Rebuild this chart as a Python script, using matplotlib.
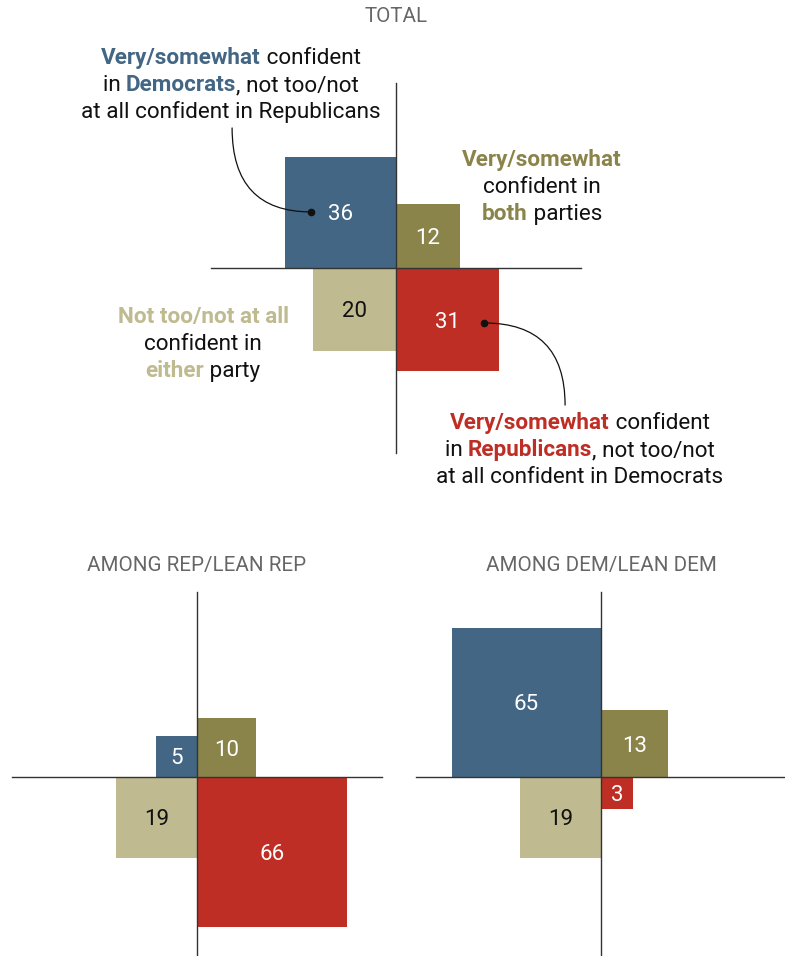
import matplotlib
matplotlib.use("Agg")
import matplotlib.pyplot as plt
from matplotlib.patches import Rectangle
import numpy as np

plt.rcParams["font.family"] = ["Roboto", "DejaVu Sans"]

W, H = 785, 956
K = 18.5  # pixels per sqrt(percentage point), square area ~ share

# quadrant order: dem only (top-left), both (top-right), neither (bottom-left), rep only (bottom-right)
quadrants = ["dem_only", "both", "neither", "rep_only"]
signs = [(-1, 1), (1, 1), (-1, -1), (1, -1)]
colors = ["#436685", "#8b844a", "#bfba8f", "#be2e24"]
label_colors = ["white", "white", "#111111", "white"]

total_vals = [36, 12, 20, 31]
rep_vals = [5, 10, 19, 66]
dem_vals = [65, 13, 19, 3]

panel_titles = ["TOTAL", "AMONG REP/LEAN REP", "AMONG DEM/LEAN DEM"]

BLUE, OLIVE, TAN, RED, INK = colors[0], colors[1], colors[2], colors[3], "#111111"
NOTE_SIZE = 16.2

fig = plt.figure(figsize=(W / 100, H / 100), dpi=100)
renderer = fig.canvas.get_renderer()


def px_axes(x0, y0, x1, y1, cx, cy):
    """Axes placed in pixel box, data origin at (cx, cy), 1 unit = K px."""
    ax = fig.add_axes([x0 / W, 1 - y1 / H, (x1 - x0) / W, (y1 - y0) / H])
    ax.set_xlim((x0 - cx) / K, (x1 - cx) / K)
    ax.set_ylim((cy - y1) / K, (cy - y0) / K)
    ax.axis("off")
    return ax


def draw_panel(ax, values, num_size=16):
    for (sx, sy), val, col, lcol in zip(signs, values, colors, label_colors):
        s = np.sqrt(val)
        x = 0 if sx > 0 else -s
        y = 0 if sy > 0 else -s
        ax.add_patch(Rectangle((x, y), s, s, facecolor=col, edgecolor="none", zorder=2))
        ax.text(x + s / 2, y + s / 2, str(val), color=lcol, fontsize=num_size,
                ha="center", va="center_baseline", zorder=4)
    ax.plot([-10, 10], [0, 0], color="#333333", lw=1, zorder=3)
    ax.plot([0, 0], [-10, 10], color="#333333", lw=1, zorder=3)


def seg_width(s, **kw):
    t = fig.text(0, 0, "|" + s + "|", **kw)
    w1 = t.get_window_extent(renderer).width
    t.remove()
    t = fig.text(0, 0, "||", **kw)
    w2 = t.get_window_extent(renderer).width
    t.remove()
    return w1 - w2


def rich_line(cx, base_y, segments, size):
    kws = [dict(fontsize=size, color=c, fontweight="bold" if b else "normal")
           for _, c, b in segments]
    widths = [seg_width(s, **kw) for (s, _, _), kw in zip(segments, kws)]
    x = cx - sum(widths) / 2
    for (s, _, _), kw, w in zip(segments, kws, widths):
        fig.text(x / W, 1 - base_y / H, s, ha="left", va="baseline", **kw)
        x += w


def rich_block(cx, first_base, lines, step=27, size=NOTE_SIZE):
    for i, segs in enumerate(lines):
        rich_line(cx, first_base + i * step, segs, size)


# panels
ax_total = px_axes(0, 40, 785, 520, 396, 268)
ax_rep = px_axes(0, 585, 392, 956, 197, 777)
ax_dem = px_axes(392, 585, 785, 956, 601, 777)

draw_panel(ax_total, total_vals)
draw_panel(ax_rep, rep_vals)
draw_panel(ax_dem, dem_vals)

for (x, y), title in zip([(396, 16), (197, 566), (601, 566)], panel_titles):
    fig.text(x / W, 1 - y / H, title, ha="center", va="center",
             fontsize=14.8, color="#666666")

# annotations on the total panel
rich_block(231, 64, [
    [("Very/somewhat", BLUE, True), (" confident", INK, False)],
    [("in ", INK, False), ("Democrats", BLUE, True), (", not too/not", INK, False)],
    [("at all confident in Republicans", INK, False)],
])
rich_block(542, 166, [
    [("Very/somewhat", OLIVE, True)],
    [("confident in", INK, False)],
    [("both", OLIVE, True), (" parties", INK, False)],
])
rich_block(203, 323, [
    [("Not too/not at all", TAN, True)],
    [("confident in", INK, False)],
    [("either", TAN, True), (" party", INK, False)],
])
rich_block(580, 429, [
    [("Very/somewhat", RED, True), (" confident", INK, False)],
    [("in ", INK, False), ("Republicans", RED, True), (", not too/not", INK, False)],
    [("at all confident in Democrats", INK, False)],
])

# connectors: dot in square -> curve to text block
connectors = [((-4.59, 3.03), (-8.86, 7.57)), ((4.76, -2.97), (9.14, -7.41))]
for dot, end in connectors:
    ax_total.annotate("", xy=dot, xytext=end,
                      arrowprops=dict(arrowstyle="-", color=INK, lw=0.9,
                                      shrinkA=0, shrinkB=0,
                                      connectionstyle="angle3,angleA=90,angleB=0"),
                      zorder=5)
    ax_total.plot(*dot, "o", color=INK, markersize=4.5, zorder=6)

fig.savefig("out.png", dpi=100)
